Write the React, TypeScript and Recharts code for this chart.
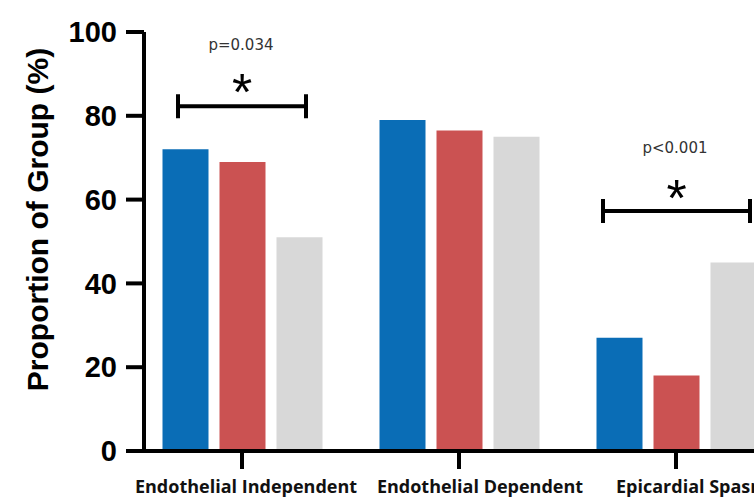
import { Bar, BarChart, ReferenceDot, ReferenceLine, XAxis, YAxis } from "recharts";

const categories = ["Endothelial Independent", "Endothelial Dependent", "Epicardial Spasm"];
const blueGroup = [72, 79, 27];
const redGroup = [69, 76.5, 18];
const greyGroup = [51, 75, 45];
const yTicks = [0, 20, 40, 60, 80, 100];

// significance brackets, drawn over a category at a given height (%)
const bracketCategory = ["Endothelial Independent", "Epicardial Spasm"];
const bracketY = [82.3, 57.3];
const starY = [88.5, 63.2];
const pValueY = [97.1, 72.5];
const pValues = ["p=0.034", "p<0.001"];

const data = categories.map((name, i) => ({
  name,
  blue: blueGroup[i],
  red: redGroup[i],
  grey: greyGroup[i],
}));

const LABEL_DX = [4, 21, 16];
const BRACKET_HALF = [64, 73.5];
const BRACKET_DX = [0, 0.5];
const CAP_PX = 12;

function CategoryTick({ x, y, payload, index }: any) {
  return (
    <text
      x={x + (LABEL_DX[index] ?? 0)}
      y={y}
      dy="0.71em"
      textAnchor="middle"
      fontFamily="'Open Sans', sans-serif"
      fontWeight={700}
      fontSize={18}
      fill="#111"
    >
      {payload.value}
    </text>
  );
}

function YTitle() {
  return (
    <text
      x={48}
      y={219.5}
      transform="rotate(-90, 48, 219.5)"
      textAnchor="middle"
      fontFamily="'Liberation Sans', Arial, sans-serif"
      fontWeight={700}
      fontSize={30}
      fill="#000"
    >
      Proportion of Group (%)
    </text>
  );
}

function bracketShape(i: number) {
  return (props: any) => {
    const cx = props.x1 + BRACKET_DX[i];
    const y = props.y1;
    const h = BRACKET_HALF[i];
    const d = `M${cx - h},${y - CAP_PX}V${y + CAP_PX}M${cx - h},${y}H${cx + h}M${cx + h},${y - CAP_PX}V${y + CAP_PX}`;
    return <path d={d} stroke="#000" strokeWidth={4} fill="none" />;
  };
}

export default function App() {
  const pad = { left: -10.5, right: -10.5 };
  return (
    <div
      style={{
        position: "fixed",
        top: 0,
        left: 0,
        width: 754,
        height: 498,
        overflow: "hidden",
        background: "#fff",
      }}
    >
      <BarChart
        width={800}
        height={498}
        data={data}
        margin={{ top: 32, right: 26, left: 0, bottom: 0 }}
        barSize={46}
        barGap={11}
      >
        <XAxis
          dataKey="name"
          height={47}
          padding={pad}
          axisLine={{ stroke: "#000", strokeWidth: 4 }}
          tickLine={{ stroke: "#000", strokeWidth: 4 }}
          tickSize={18}
          tickMargin={11}
          tick={<CategoryTick />}
          interval={0}
        />
        <YAxis
          width={144}
          domain={[0, 100]}
          ticks={yTicks}
          interval={0}
          axisLine={{ stroke: "#000", strokeWidth: 4 }}
          tickLine={{ stroke: "#000", strokeWidth: 4 }}
          tickSize={18}
          tickMargin={9}
          tick={{
            fill: "#000",
            fontSize: 29,
            fontWeight: 700,
            fontFamily: "'Liberation Sans', Arial, sans-serif",
          }}
          label={{ content: () => <YTitle /> }}
        />
        <Bar dataKey="blue" fill="#0a6db6" isAnimationActive={false} />
        <Bar dataKey="red" fill="#cb5252" isAnimationActive={false} />
        <Bar dataKey="grey" fill="#d8d8d8" isAnimationActive={false} />

        {pValues.map((p, i) => [
          <ReferenceLine
            key={`b${i}`}
            segment={[
              { x: bracketCategory[i], y: bracketY[i] },
              { x: bracketCategory[i], y: bracketY[i] },
            ]}
            shape={bracketShape(i)}
          />,
          <ReferenceDot
            key={`s${i}`}
            x={bracketCategory[i]}
            y={starY[i]}
            r={0}
            shape={(props: any) => (
              <text
                x={props.cx + BRACKET_DX[i]}
                y={props.cy}
                dy="0.575em"
                textAnchor="middle"
                fontFamily="'Liberation Sans', Arial, sans-serif"
                fontSize={52}
                fill="#000"
              >
                *
              </text>
            )}
          />,
          <ReferenceDot
            key={`p${i}`}
            x={bracketCategory[i]}
            y={pValueY[i]}
            r={0}
            shape={(props: any) => (
              <text
                x={props.cx - 1}
                y={props.cy}
                dy="0.36em"
                textAnchor="middle"
                fontFamily="'DejaVu Sans', sans-serif"
                fontSize={15}
                fill="#333"
              >
                {p}
              </text>
            )}
          />,
        ])}
      </BarChart>
    </div>
  );
}
